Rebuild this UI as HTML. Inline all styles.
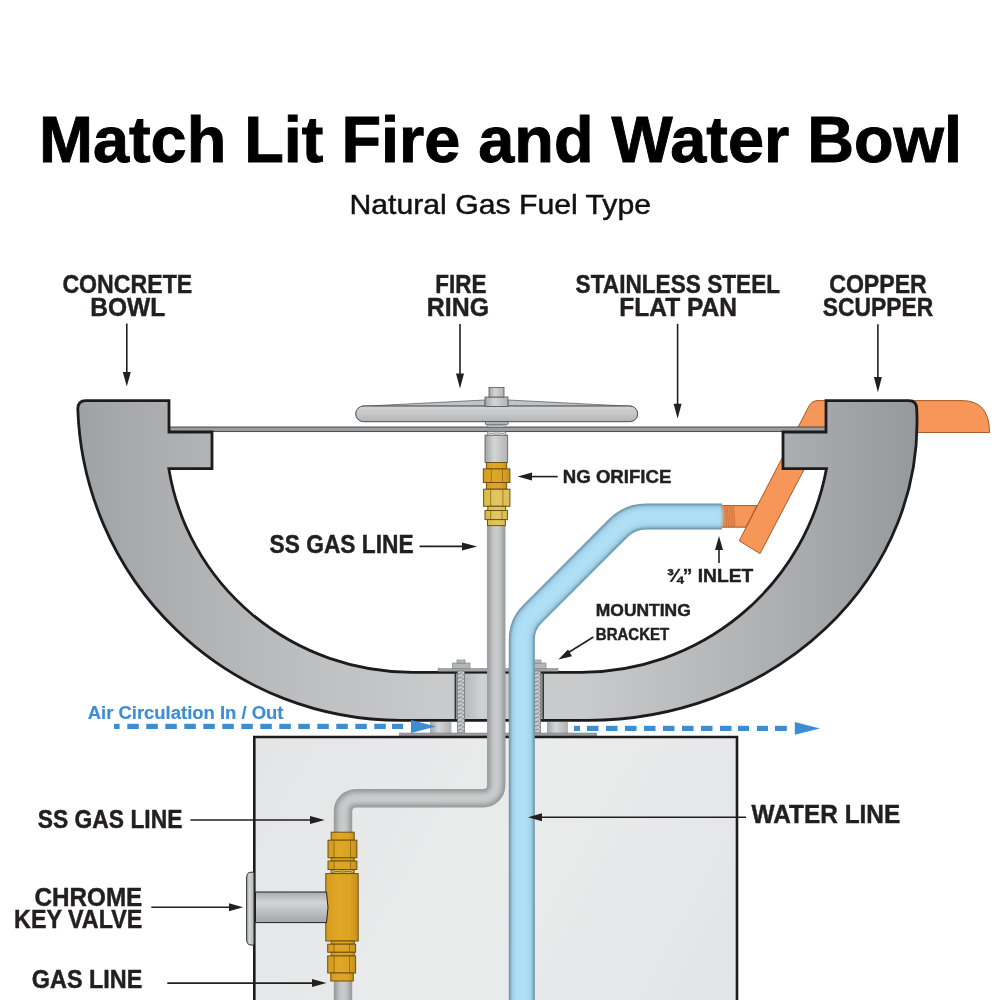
<!DOCTYPE html>
<html><head><meta charset="utf-8"><title>Match Lit Fire and Water Bowl</title>
<style>
html,body{margin:0;padding:0;background:#fff;width:1000px;height:1000px;overflow:hidden}
svg{display:block;will-change:transform}
.t{font-family:"Liberation Sans",sans-serif}
.lb{font-family:"Liberation Sans",sans-serif;font-weight:bold;fill:#231f20;stroke:#231f20;stroke-width:0.45px}
</style></head><body>
<svg width="1000" height="1000" viewBox="0 0 1000 1000">
<defs>
  <filter id="bl1" x="-10%" y="-10%" width="120%" height="120%"><feGaussianBlur stdDeviation="1.5"/></filter>
  <filter id="bl3" x="-10%" y="-10%" width="120%" height="120%"><feGaussianBlur stdDeviation="1"/></filter>
  <filter id="bl2" x="-10%" y="-10%" width="120%" height="120%"><feGaussianBlur stdDeviation="2"/></filter>
  <linearGradient id="bowlG" gradientUnits="userSpaceOnUse" x1="78" y1="0" x2="917" y2="0">
    <stop offset="0" stop-color="#9fa2a5"/>
    <stop offset="0.16" stop-color="#b3b4b6"/>
    <stop offset="0.3" stop-color="#c0c1c3"/>
    <stop offset="0.45" stop-color="#cacbcd"/>
    <stop offset="0.6" stop-color="#c9cacc"/>
    <stop offset="0.8" stop-color="#b1b3b5"/>
    <stop offset="1" stop-color="#96999c"/>
  </linearGradient>
  <linearGradient id="pedG" gradientUnits="userSpaceOnUse" x1="256" y1="738" x2="737" y2="1000">
    <stop offset="0" stop-color="#e4e5e6"/>
    <stop offset="0.5" stop-color="#eaebeb"/>
    <stop offset="1" stop-color="#e3e4e5"/>
  </linearGradient>
  <linearGradient id="gasV" x1="0" y1="0" x2="1" y2="0">
    <stop offset="0" stop-color="#9a9da0"/>
    <stop offset="0.3" stop-color="#c0c1c3"/>
    <stop offset="0.6" stop-color="#c7c8ca"/>
    <stop offset="0.85" stop-color="#a9abad"/>
    <stop offset="1" stop-color="#96999c"/>
  </linearGradient>
  <linearGradient id="watV" x1="0" y1="0" x2="1" y2="0">
    <stop offset="0" stop-color="#6f96aa"/>
    <stop offset="0.12" stop-color="#97c8df"/>
    <stop offset="0.5" stop-color="#aedff5"/>
    <stop offset="0.8" stop-color="#98c8de"/>
    <stop offset="1" stop-color="#6f93a7"/>
  </linearGradient>
  <linearGradient id="ringG" x1="0" y1="0" x2="0" y2="1">
    <stop offset="0" stop-color="#d2d3d5"/>
    <stop offset="0.5" stop-color="#c6c7c9"/>
    <stop offset="1" stop-color="#b3b4b6"/>
  </linearGradient>
  <linearGradient id="cylH" x1="0" y1="0" x2="1" y2="0">
    <stop offset="0" stop-color="#a2a4a7"/>
    <stop offset="0.4" stop-color="#d4d5d6"/>
    <stop offset="1" stop-color="#b0b2b4"/>
  </linearGradient>
  <linearGradient id="cylV" x1="0" y1="0" x2="0" y2="1">
    <stop offset="0" stop-color="#a9abae"/>
    <stop offset="0.35" stop-color="#d3d4d6"/>
    <stop offset="1" stop-color="#a4a6a9"/>
  </linearGradient>
  <linearGradient id="brG" x1="0" y1="0" x2="1" y2="0">
    <stop offset="0" stop-color="#d39a1e"/>
    <stop offset="0.35" stop-color="#e0a726"/>
    <stop offset="0.75" stop-color="#dba323"/>
    <stop offset="1" stop-color="#c48f1c"/>
  </linearGradient>
  <linearGradient id="brL" x1="0" y1="0" x2="1" y2="0">
    <stop offset="0" stop-color="#d8bb3c"/>
    <stop offset="0.5" stop-color="#e2c664"/>
    <stop offset="1" stop-color="#dabf50"/>
  </linearGradient>
  <linearGradient id="brkG" x1="0" y1="0" x2="1" y2="0">
    <stop offset="0" stop-color="#a8aaad"/>
    <stop offset="0.3" stop-color="#cfd0d2"/>
    <stop offset="1" stop-color="#c3c4c6"/>
  </linearGradient>
  <pattern id="thr" width="7" height="4" patternUnits="userSpaceOnUse">
    <rect width="7" height="4" fill="#c9cacc"/>
    <path d="M0 3.2 L7 0.8" stroke="#8e9093" stroke-width="1.1"/>
  </pattern>
</defs>

<!-- Title -->
<text class="t" x="39" y="162" font-size="64.2" font-weight="bold" fill="#000" stroke="#000" stroke-width="0.9" textLength="923" lengthAdjust="spacingAndGlyphs">Match Lit Fire and Water Bowl</text>
<text class="t" x="349.5" y="213.6" font-size="27.8" fill="#111" stroke="#111" stroke-width="0.45" textLength="301.5" lengthAdjust="spacingAndGlyphs">Natural Gas Fuel Type</text>

<!-- Top labels -->
<g class="lb" font-size="25.4">
  <text x="62.4" y="293" textLength="129.8" lengthAdjust="spacingAndGlyphs">CONCRETE</text>
  <text x="90.2" y="316" textLength="75.0" lengthAdjust="spacingAndGlyphs">BOWL</text>
  <text x="435.2" y="293" textLength="51.2" lengthAdjust="spacingAndGlyphs">FIRE</text>
  <text x="426.8" y="316" textLength="62.2" lengthAdjust="spacingAndGlyphs">RING</text>
  <text x="575.6" y="293" textLength="204.5" lengthAdjust="spacingAndGlyphs">STAINLESS STEEL</text>
  <text x="619.3" y="316" textLength="117.6" lengthAdjust="spacingAndGlyphs">FLAT PAN</text>
  <text x="829.2" y="293" textLength="97.6" lengthAdjust="spacingAndGlyphs">COPPER</text>
  <text x="822.8" y="316" textLength="110.4" lengthAdjust="spacingAndGlyphs">SCUPPER</text>
</g>

<!-- arrows down -->
<g stroke="#231f20" stroke-width="1.6" fill="none">
  <line x1="126.8" y1="323.6" x2="126.8" y2="374"/>
  <line x1="460" y1="324" x2="460" y2="376"/>
  <line x1="677.6" y1="323.8" x2="677.6" y2="406"/>
  <line x1="877.9" y1="324.2" x2="877.9" y2="379"/>
</g>
<g fill="#231f20">
  <path d="M122.8 372 L130.8 372 L126.8 386.6 Z"/>
  <path d="M456 373.6 L464 373.6 L460 388.5 Z"/>
  <path d="M673.6 403.7 L681.6 403.7 L677.6 418.6 Z"/>
  <path d="M873.9 377 L881.9 377 L877.9 392.2 Z"/>
</g>

<!-- Copper scupper (behind bowl) -->
<g fill="#f69659" stroke="#9a4f1c" stroke-width="0.9">
  <path d="M721.6 505.6 L757 505.6 L746 527.2 L721.6 527.2 Z"/>
  <path d="M818 400.6 L962 400.6 Q989.5 400.6 989.5 432.5 L905 432.5 L905 420 L830 420 L760 553.6 L739.2 540.8 L809 406 Q812 400.6 818 400.6 Z"/>
</g>
<g stroke="#a5561f" stroke-width="0.55" opacity="0.9">
  <path d="M722.5 506.5 l1.2 20.5 M724.1 506.5 l1.2 20.5 M725.7 506.5 l1.2 20.5 M727.3 506.5 l1.2 20.5 M728.9 506.5 l1.2 20.5 M730.5 506.5 l1.2 20.5 M732.1 506.5 l1.2 20.5 M733.7 506.5 l1.2 20.5"/>
</g>

<!-- Flat pan -->
<rect x="160" y="427" width="670" height="4.6" fill="#9a9c9f" stroke="#3a3a3a" stroke-width="0.9"/>

<!-- Bowl -->
<path id="bowl" d="M85.8 400.6 L169 400.6 L169 432 L212 432 L212 468.6 L168.8 468.6 A246.6 241.5 0 0 0 412.4 672.3 L581.2 672.3 A249.3 247.95 0 0 0 826.5 468.6 L783 468.6 L783 432 L826 432 L826 400.6 L908.7 400.6 Q916.7 400.6 916.7 409 A329.2 298.1 0 0 1 587.8 720.4 L401 720.4 A323.4 322.4 0 0 1 77.8 409 Q77.8 400.6 85.8 400.6 Z"
 fill="url(#bowlG)" stroke="#1c1c1c" stroke-width="2.8" stroke-linejoin="miter"/>

<!-- center bracket region -->
<rect x="455" y="673.8" width="86" height="44.4" fill="url(#brkG)"/>
<rect x="455" y="673.8" width="2.2" height="44.4" fill="#8e9093"/>
<rect x="454.6" y="672" width="1.3" height="48" fill="#2a2a2a"/>
<rect x="540.8" y="673.8" width="2.2" height="44.4" fill="#8e9093"/>
<rect x="542.6" y="672" width="1.3" height="48" fill="#2a2a2a"/>

<!-- top plate -->
<rect x="438" y="668.5" width="120" height="2.8" fill="#a3a5a8" stroke="#77797c" stroke-width="0.5"/>
<!-- nuts -->
<rect x="452.5" y="663" width="17.5" height="5.5" fill="#b4b6b8" stroke="#77797c" stroke-width="0.6"/>
<rect x="457" y="660" width="8" height="3" fill="#babcbe" stroke="#77797c" stroke-width="0.6"/>
<rect x="529" y="663" width="17" height="5.5" fill="#b4b6b8" stroke="#77797c" stroke-width="0.6"/>
<rect x="534" y="660" width="7" height="3" fill="#babcbe" stroke="#77797c" stroke-width="0.6"/>
<!-- bolts -->
<rect x="457.5" y="671" width="7" height="62" fill="url(#thr)" stroke="#707275" stroke-width="0.7"/>
<rect x="534.5" y="671" width="6" height="62" fill="url(#thr)" stroke="#707275" stroke-width="0.7"/>
<!-- spacers -->
<rect x="430" y="722" width="21.5" height="11" fill="url(#cylH)"/>
<rect x="547" y="722" width="21" height="11" fill="url(#cylH)"/>
<!-- base plate -->
<rect x="399.5" y="733" width="197.3" height="2.8" fill="#9c9ea1" stroke="#77797c" stroke-width="0.5"/>

<!-- Air circulation -->
<text class="t" x="87.7" y="718.8" font-size="17.6" font-weight="bold" fill="#3d8dd4" stroke="#3d8dd4" stroke-width="0.15" textLength="195.8" lengthAdjust="spacingAndGlyphs">Air Circulation In / Out</text>
<g fill="#3b8ed2">
  <rect x="114" y="723.8" width="5.6" height="5.2"/>
  <rect x="127.3" y="723.8" width="11.5" height="5.2"/>
  <rect x="146.3" y="723.8" width="11.5" height="5.2"/>
  <rect x="165.3" y="723.8" width="11.5" height="5.2"/>
  <rect x="184.3" y="723.8" width="11.5" height="5.2"/>
  <rect x="203.3" y="723.8" width="11.5" height="5.2"/>
  <rect x="222.3" y="723.8" width="11.5" height="5.2"/>
  <rect x="241.3" y="723.8" width="11.5" height="5.2"/>
  <rect x="260.3" y="723.8" width="11.5" height="5.2"/>
  <rect x="279.3" y="723.8" width="11.5" height="5.2"/>
  <rect x="298.3" y="723.8" width="11.5" height="5.2"/>
  <rect x="317.3" y="723.8" width="11.5" height="5.2"/>
  <rect x="336.3" y="723.8" width="11.5" height="5.2"/>
  <rect x="355.3" y="723.8" width="11.5" height="5.2"/>
  <rect x="374.3" y="723.8" width="11.5" height="5.2"/>
  <rect x="392" y="723.8" width="11" height="5.2"/>
  <path d="M411 720 L436 726.5 L411 733 Z"/>
  <rect x="574" y="725.8" width="6" height="5.2"/>
  <rect x="587" y="725.8" width="11.5" height="5.2"/>
  <rect x="606" y="725.8" width="11.5" height="5.2"/>
  <rect x="625" y="725.8" width="11.5" height="5.2"/>
  <rect x="644" y="725.8" width="11.5" height="5.2"/>
  <rect x="663" y="725.8" width="11.5" height="5.2"/>
  <rect x="682" y="725.8" width="11.5" height="5.2"/>
  <rect x="701" y="725.8" width="11.5" height="5.2"/>
  <rect x="720" y="725.8" width="11.5" height="5.2"/>
  <rect x="738" y="725.8" width="11" height="5.2"/>
  <rect x="757" y="725.8" width="11" height="5.2"/>
  <rect x="775" y="725.8" width="11.8" height="5.2"/>
  <path d="M794.8 721.9 L819.9 728.4 L794.8 734.8 Z"/>
</g>

<!-- Pedestal -->
<path d="M254.3 1001 L254.3 737 L737 737 L737 1001" fill="url(#pedG)" stroke="#1c1c1c" stroke-width="2.6"/>

<!-- chrome key valve -->
<path d="M254 872.2 L251 872.2 Q246.6 872.2 246.6 878 L246.6 939 Q246.6 945 251 945 L254 945 Z" fill="url(#cylH)" stroke="#333" stroke-width="1"/>

<!-- Gas line (lower) -->
<path d="M343 1005 V811.3 A13 13 0 0 1 356 798.3 H483.25 A13 13 0 0 0 496.25 785.3 V520" fill="none" stroke="#989b9e" stroke-width="18.4"/>
<path d="M343 1005 V811.3 A13 13 0 0 1 356 798.3 H483.25 A13 13 0 0 0 496.25 785.3 V520" fill="none" stroke="#b7b9bb" stroke-width="13" filter="url(#bl1)"/>
<path d="M343 1005 V811.3 A13 13 0 0 1 356 798.3 H483.25 A13 13 0 0 0 496.25 785.3 V520" fill="none" stroke="#c9cacc" stroke-width="7" filter="url(#bl1)"/>

<!-- Water line -->
<path d="M722 516.6 H646.4 A40 40 0 0 0 618.1 528.3 L532.3 614.1 A36 36 0 0 0 521.8 639.5 V1005" fill="none" stroke="#6d92a7" stroke-width="26"/>
<path d="M722 516.6 H646.4 A40 40 0 0 0 618.1 528.3 L532.3 614.1 A36 36 0 0 0 521.8 639.5 V1005" fill="none" stroke="#9dcee5" stroke-width="22" filter="url(#bl3)"/>
<path d="M722 516.6 H646.4 A40 40 0 0 0 618.1 528.3 L532.3 614.1 A36 36 0 0 0 521.8 639.5 V1005" fill="none" stroke="#aedff5" stroke-width="15" filter="url(#bl2)"/>

<!-- Fire ring assembly -->
<rect x="485" y="435.2" width="22.7" height="27.3" fill="url(#cylH)" stroke="#555" stroke-width="0.8"/>
<rect x="487.2" y="431.5" width="18.7" height="4.2" fill="#e6e7e8" stroke="#555" stroke-width="0.6"/>
<path d="M487.5 432.5 Q496.5 436.5 505.5 432.5 M487.5 434.8 Q496.5 430.8 505.5 434.8" fill="none" stroke="#8d8f92" stroke-width="0.7"/>
<rect x="487.2" y="424" width="18.7" height="3.2" fill="#e6e7e8" stroke="#555" stroke-width="0.6"/>
<path d="M487.5 424.8 Q496.5 427.8 505.5 424.8 M487.5 426.6 Q496.5 423.6 505.5 426.6" fill="none" stroke="#8d8f92" stroke-width="0.7"/>
<rect x="485.3" y="420.9" width="22.8" height="3.3" fill="#c6c7c9" stroke="#555" stroke-width="0.7"/>
<path d="M362 406.3 L485 400 L485 406.3 Z" fill="#c2c3c5" stroke="#555" stroke-width="0.7"/>
<path d="M508 400 L632 406.3 L508 406.3 Z" fill="#c2c3c5" stroke="#555" stroke-width="0.7"/>
<rect x="355.7" y="406" width="282" height="15.7" rx="7.85" fill="url(#ringG)" stroke="#4a4a4a" stroke-width="1"/>
<rect x="485" y="397" width="23" height="9.4" fill="url(#cylH)" stroke="#555" stroke-width="0.8"/>
<rect x="489" y="387.5" width="15" height="9.5" fill="url(#cylH)" stroke="#555" stroke-width="0.8"/>

<!-- upper brass orifice -->
<g stroke="#6f5212" stroke-width="1">
  <rect x="486.4" y="462.5" width="20.3" height="6.4" fill="url(#brG)"/>
  <rect x="483.3" y="468.9" width="26.6" height="13.6" fill="url(#brG)"/>
  <path d="M491.3 469 V482.4 M502.5 469 V482.4" fill="none" stroke-width="0.6"/>
  <rect x="486.4" y="482.5" width="20.3" height="6.7" fill="url(#brG)"/>
  <rect x="483.6" y="489.2" width="26.3" height="17.1" fill="url(#brL)"/>
  <path d="M490.6 489.3 V506.2 M502.9 489.3 V506.2" fill="none" stroke-width="0.6"/>
  <rect x="487.8" y="506.3" width="17.9" height="4.2" fill="url(#brL)"/>
  <rect x="485" y="510.5" width="22.4" height="9.1" fill="url(#brL)"/>
  <path d="M490.6 510.6 V519.5 M502 510.6 V519.5" fill="none" stroke-width="0.6"/>
  <rect x="487.5" y="519.6" width="17.8" height="6" fill="url(#brL)"/>
</g>

<!-- lower brass tee -->
<g stroke="#6f5212" stroke-width="1">
  <rect x="331.2" y="832.2" width="23" height="8" fill="url(#brG)"/>
  <rect x="328" y="840.2" width="28.9" height="17.6" fill="url(#brG)"/>
  <path d="M334 840.3 V857.7 M350.5 840.3 V857.7" fill="none" stroke-width="0.6"/>
  <rect x="331.2" y="857.8" width="23" height="3.2" fill="url(#brG)"/>
  <rect x="328" y="861" width="28.9" height="8.5" fill="url(#brG)"/>
  <path d="M334 861 V869.5 M350.5 861 V869.5" fill="none" stroke-width="0.6"/>
  <rect x="331.2" y="869.5" width="23" height="4.1" fill="#e2c35a"/>
  <path d="M331.5 870.3 Q342.7 874 354 870.3 M331.5 872.8 Q342.7 869 354 872.8" fill="none" stroke-width="0.6"/>
  <rect x="325.8" y="873.6" width="32.4" height="67.4" fill="url(#brG)"/>
  <rect x="331.2" y="941" width="23" height="3.2" fill="url(#brG)"/>
  <rect x="327.7" y="944.2" width="27.9" height="8.1" fill="url(#brG)"/>
  <path d="M334 944.2 V952.3 M349.5 944.2 V952.3" fill="none" stroke-width="0.6"/>
  <rect x="331.2" y="952.3" width="23" height="3.6" fill="url(#brG)"/>
  <rect x="327.7" y="955.9" width="27.9" height="17.1" fill="url(#brG)"/>
  <path d="M334 956 V973 M349.5 956 V973" fill="none" stroke-width="0.6"/>
  <rect x="330.8" y="973" width="22.5" height="8" fill="url(#brG)"/>
</g>

<path d="M255.5 892 H326.5 Q329.5 907.3 326.5 922.6 H255.5 Z" fill="url(#cylV)" stroke="#222" stroke-width="1"/>

<!-- lower labels -->
<g class="lb" font-size="25.4">
  <text x="269.6" y="553.1" textLength="144.0" lengthAdjust="spacingAndGlyphs">SS GAS LINE</text>
  <text x="37.8" y="828" textLength="144.6" lengthAdjust="spacingAndGlyphs">SS GAS LINE</text>
  <text x="34.5" y="905.6" textLength="107.8" lengthAdjust="spacingAndGlyphs">CHROME</text>
  <text x="14.1" y="927.7" textLength="128.2" lengthAdjust="spacingAndGlyphs">KEY VALVE</text>
  <text x="31.8" y="987.9" textLength="110.5" lengthAdjust="spacingAndGlyphs">GAS LINE</text>
  <text x="751.6" y="823" textLength="148.6" lengthAdjust="spacingAndGlyphs">WATER LINE</text>
</g>
<g class="lb" font-size="17.8">
  <text x="562.8" y="483.4" textLength="108.6" lengthAdjust="spacingAndGlyphs">NG ORIFICE</text>
  <text x="666.8" y="582" textLength="86.4" lengthAdjust="spacingAndGlyphs" font-size="18.4">¾” INLET</text>
</g>
<g class="lb" font-size="16.1">
  <text x="595.8" y="616.4" textLength="95.0" lengthAdjust="spacingAndGlyphs">MOUNTING</text>
  <text x="595.8" y="639.6" textLength="73.4" lengthAdjust="spacingAndGlyphs">BRACKET</text>
</g>

<!-- side arrows -->
<g stroke="#231f20" stroke-width="1.6" fill="none">
  <line x1="419.6" y1="546.4" x2="466" y2="546.4"/>
  <line x1="557.7" y1="476.6" x2="528" y2="476.6"/>
  <line x1="719" y1="563" x2="719" y2="548"/>
  <line x1="593.4" y1="637" x2="566" y2="654"/>
  <line x1="190.4" y1="820" x2="312" y2="820"/>
  <line x1="151.3" y1="907.3" x2="231" y2="907.3"/>
  <line x1="167.3" y1="983.1" x2="314" y2="983.1"/>
  <line x1="746" y1="817.2" x2="540" y2="817.2"/>
</g>
<g fill="#231f20">
  <path d="M462 542.4 L477.2 546.4 L462 550.4 Z"/>
  <path d="M532 472.6 L517.6 476.6 L532 480.6 Z"/>
  <path d="M715 550 L719 536 L723 550 Z"/>
  <path d="M568 649.6 L558.4 659.4 L572 656.2 Z"/>
  <path d="M310 816 L324.7 820 L310 824 Z"/>
  <path d="M229 903.3 L243.1 907.3 L229 911.3 Z"/>
  <path d="M312 979.1 L326.4 983.1 L312 987.1 Z"/>
  <path d="M542 813.2 L528 817.2 L542 821.2 Z"/>
</g>
</svg>
</body></html>
